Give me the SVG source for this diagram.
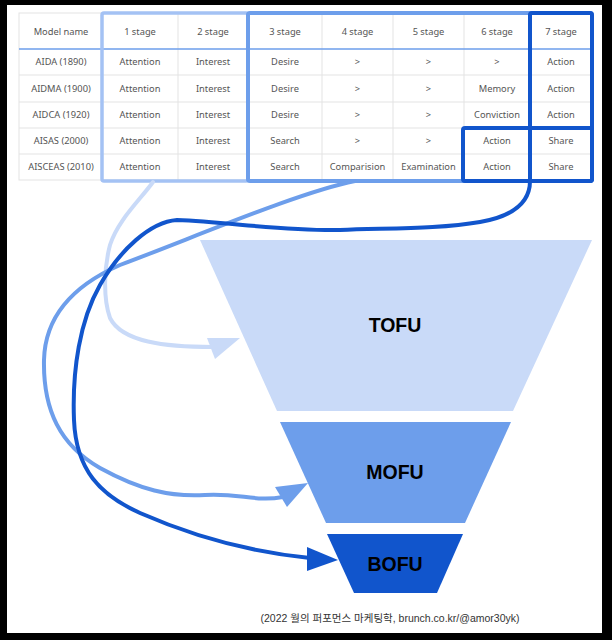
<svg xmlns="http://www.w3.org/2000/svg" width="612" height="640" viewBox="0 0 612 640">
<style>
.t{font-family:"Noto Sans","Open Sans",sans-serif;font-size:9.3px;fill:#555;text-anchor:middle}
.g{stroke:#e3e3e3;stroke-width:1;fill:none}
.lbl{font-family:"Liberation Sans",Arial,sans-serif;font-weight:bold;font-size:19.5px;fill:#000;text-anchor:middle}
.cap{font-family:"Liberation Sans","Noto Sans CJK KR",sans-serif;font-size:10.5px;fill:#333;text-anchor:middle}
.c{fill:none;stroke-width:4;stroke-linecap:round}
</style>
<rect x="0" y="0" width="612" height="640" fill="#000"/>
<rect x="7" y="5" width="595" height="628" fill="#fff"/>

<g id="table">
<rect x="19" y="13" width="573" height="167" fill="#fff" class="g"/>
<path class="g" d="M19,75H592M19,102H592M19,128H592M19,154H592M102,13V180M178,13V180M248,13V180M322,13V180M393,13V180M464,13V180M530,13V180"/>
<line x1="19" y1="49" x2="592" y2="49" stroke="#6d9eeb" stroke-width="1.5"/>
<g class="t">
<text x="61" y="34.5">Model name</text><text x="140" y="34.5">1 stage</text><text x="213" y="34.5">2 stage</text><text x="285" y="34.5">3 stage</text><text x="357.5" y="34.5">4 stage</text><text x="428.5" y="34.5">5 stage</text><text x="497" y="34.5">6 stage</text><text x="561" y="34.5">7 stage</text>
<text x="61" y="65.3">AIDA (1890)</text><text x="140" y="65.3">Attention</text><text x="213" y="65.3">Interest</text><text x="285" y="65.3">Desire</text><text x="357.5" y="65.3">&gt;</text><text x="428.5" y="65.3">&gt;</text><text x="497" y="65.3">&gt;</text><text x="561" y="65.3">Action</text>
<text x="61" y="91.5">AIDMA (1900)</text><text x="140" y="91.5">Attention</text><text x="213" y="91.5">Interest</text><text x="285" y="91.5">Desire</text><text x="357.5" y="91.5">&gt;</text><text x="428.5" y="91.5">&gt;</text><text x="497" y="91.5">Memory</text><text x="561" y="91.5">Action</text>
<text x="61" y="118">AIDCA (1920)</text><text x="140" y="118">Attention</text><text x="213" y="118">Interest</text><text x="285" y="118">Desire</text><text x="357.5" y="118">&gt;</text><text x="428.5" y="118">&gt;</text><text x="497" y="118">Conviction</text><text x="561" y="118">Action</text>
<text x="61" y="144">AISAS (2000)</text><text x="140" y="144">Attention</text><text x="213" y="144">Interest</text><text x="285" y="144">Search</text><text x="357.5" y="144">&gt;</text><text x="428.5" y="144">&gt;</text><text x="497" y="144">Action</text><text x="561" y="144">Share</text>
<text x="61" y="170">AISCEAS (2010)</text><text x="140" y="170">Attention</text><text x="213" y="170">Interest</text><text x="285" y="170">Search</text><text x="357.5" y="170">Comparision</text><text x="428.5" y="170">Examination</text><text x="497" y="170">Action</text><text x="561" y="170">Share</text>
</g>
</g>

<g id="hl-light"><rect x="102" y="13" width="146" height="168" rx="2" fill="none" stroke="#a4c2f4" stroke-width="3.5"/></g>
<g id="hl-mid"><rect x="248" y="13" width="344" height="168" rx="2" fill="none" stroke="#6d9eeb" stroke-width="4"/></g>
<g id="hl-dark" fill="none" stroke="#1155cc" stroke-width="4">
<rect x="530" y="13" width="62" height="168" rx="2"/>
<rect x="463" y="128" width="129" height="53" rx="2"/>
</g>

<g id="tofu"><polygon points="200,240 592,240 513,411 277,411" fill="#c9daf8"/><text class="lbl" x="395" y="332">TOFU</text></g>
<g id="mofu"><polygon points="280,422 511,422 465,523 326,523" fill="#6d9eeb"/><text class="lbl" x="395" y="479">MOFU</text></g>
<g id="bofu"><polygon points="327,534 463,534 437,593 354,593" fill="#1155cc"/><text class="lbl" x="395" y="571">BOFU</text></g>

<g id="connectors">
<path class="c" stroke="#c9daf8" d="M153,182 C140,200 118,220 110,245 C104,268 103,298 110,318 C122,342 165,347 213,347"/>
<polygon fill="#c9daf8" points="240,338 207,338 215,359"/>
<path class="c" stroke="#6d9eeb" d="M355,181 C300,192 200,235 120,265 C70,287 45,318 44,360 C43,410 60,445 100,468 C140,490 170,497 205,495 C240,493 255,502 283,497"/>
<polygon fill="#6d9eeb" points="308,483 275,487 287,507"/>
<path class="c" stroke="#1155cc" d="M530,181 C530,202 514,216 480,222 C440,229 390,228 340,230 C280,231 230,222 177,220 C150,222 120,250 100,285 C80,320 72,370 74,420 C76,470 100,495 140,513 C190,535 250,552 310,558"/>
<polygon fill="#1155cc" points="338,560 307,547 307,571"/>
</g>

<text class="cap" x="390" y="622">(2022 월의 퍼포먼스 마케팅학, brunch.co.kr/@amor30yk)</text>
</svg>
